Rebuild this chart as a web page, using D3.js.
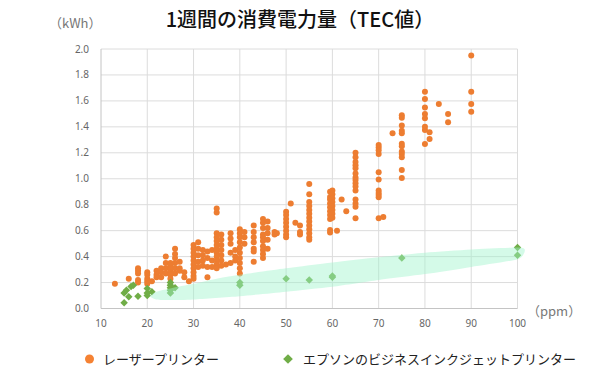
<html>
<script src="https://d3js.org/d3.v7.min.js"></script>
<body style="margin:0;background:#fff">
<svg></svg>
<script>
    const width = 600;
    const height = 373;

    // laser printers: [ppm, kWh]
    const laser = [
        [13,0.19],[16,0.23],
        [18,0.31],[18,0.29],[18,0.27],[18,0.22],[18,0.20],
        [20,0.28],[20,0.26],[20,0.23],[20,0.21],[20,0.19],[21,0.21],
        [22,0.29],[22,0.26],[22,0.24],
        [23,0.31],[23,0.28],[23,0.24],
        [24,0.40],[24,0.35],[24,0.31],[24,0.27],
        [25,0.35],[25,0.33],[25,0.30],[25,0.28],[25,0.26],[25,0.23],
        [26,0.46],[26,0.42],[26,0.39],[26,0.35],[26,0.31],[26,0.27],
        [27,0.36],[27,0.31],[27,0.29],[28,0.28],[28,0.24],[29,0.21],
        [30,0.49],[30,0.46],[30,0.43],[30,0.40],[30,0.37],[30,0.34],[30,0.31],[30,0.28],[30,0.25],[30,0.23],
        [31,0.51],[31,0.46],[31,0.41],[31,0.36],[31,0.32],
        [32,0.45],[32,0.41],[32,0.37],[32,0.33],
        [33,0.44],[33,0.39],[33,0.32],[33,0.24],
        [34,0.45],[34,0.37],[34,0.32],
        [35,0.77],[35,0.74],[35,0.58],[35,0.55],[35,0.52],[35,0.49],[35,0.46],[35,0.43],[35,0.40],[35,0.37],[35,0.34],[35,0.31],
        [36,0.57],[36,0.53],[36,0.49],[36,0.45],[36,0.41],[36,0.37],[36,0.33],
        [37,0.34],
        [38,0.58],[38,0.54],[38,0.50],[38,0.43],[38,0.35],
        [39,0.45],[39,0.40],[39,0.37],
        [40,0.61],[40,0.58],[40,0.55],[40,0.51],[40,0.47],[40,0.43],[40,0.39],[40,0.35],[40,0.31],[40,0.27],
        [41,0.59],[41,0.55],[41,0.50],
        [43,0.64],[43,0.59],[43,0.55],[43,0.51],[43,0.46],[43,0.44],[43,0.36],
        [45,0.69],[45,0.66],[45,0.62],[45,0.57],[45,0.55],[45,0.52],[45,0.48],[45,0.45],[45,0.42],[45,0.39],
        [46,0.67],[46,0.62],[46,0.58],[46,0.53],[46,0.46],
        [47.5,0.59],[47.5,0.57],[48,0.58],
        [50,0.745],[50,0.72],[50,0.69],[50,0.66],[50,0.63],[50,0.60],[50,0.57],[50,0.55],
        [51,0.81],[52,0.66],[53,0.64],[53,0.59],[53,0.57],
        [55,0.96],[55,0.88],[55,0.82],[55,0.79],[55,0.76],[55,0.73],[55,0.70],[55,0.67],[55,0.64],[55,0.61],[55,0.58],[55,0.55],[55,0.53],
        [59.5,0.90],[59.5,0.86],[59.5,0.84],[59.5,0.81],[59.5,0.78],[59.5,0.75],[59.5,0.72],[59.5,0.69],[59.5,0.605],[59.5,0.585],
        [60,0.91],[60,0.88],[60,0.85],[60,0.82],[60,0.79],[60,0.76],[60,0.73],[60,0.70],
        [61,0.60],[62,0.84],[63,0.75],
        [65,1.20],[65,1.165],[65,1.13],[65,1.105],[65,1.08],[65,1.04],[65,1.01],[65,0.99],[65,0.965],[65,0.94],[65,0.91],[65,0.84],[65,0.81],[65,0.785],[65,0.695],
        [70,1.26],[70,1.24],[70,1.22],[70,1.19],[70,1.05],[70,0.995],[70,0.91],[70,0.89],[70,0.875],[70,0.857],[70,0.695],
        [71,0.705],[73,1.35],
        [75,1.49],[75,1.47],[75,1.41],[75,1.37],[75,1.35],[75,1.27],[75,1.25],[75,1.21],[75,1.19],[75,1.165],[75,1.067],[75,1.006],
        [80,1.67],[80,1.615],[80,1.55],[80,1.50],[80,1.466],[80,1.40],[80,1.376],[80,1.268],
        [81,1.358],[81,1.306],[83,1.576],[85,1.50],[85,1.435],
        [90,1.95],[90,1.67],[90,1.576],[90,1.517]
    ];

    // epson business inkjet: [ppm, kWh]
    const epson = [
        [15,0.045],[15,0.12],[15.5,0.14],[16,0.09],[16.5,0.17],[17,0.18],[18,0.095],
        [20,0.155],[20,0.12],[20,0.10],[21,0.13],
        [25,0.20],[25,0.18],[25,0.16],[25,0.14],[25,0.12],[26,0.16],
        [40,0.20],[40,0.18],[50,0.23],[55,0.22],[60,0.25],[60,0.24],
        [75,0.39],[100,0.47],[100,0.41]
    ];

    // shaded band around the inkjet points
    const bandUpper = [[20.6,0.095],[22,0.13],[25,0.155],[30,0.19],[35,0.23],[40,0.26],[50,0.31],[60,0.355],[70,0.395],[80,0.43],[90,0.455],[100,0.47],[101.6,0.45]];
    const bandLower = [[100,0.38],[90,0.32],[80,0.265],[70,0.22],[60,0.168],[50,0.13],[40,0.095],[30,0.07],[25,0.065],[22,0.07]];

    const xTicks = [10,20,30,40,50,60,70,80,90,100];
    const yTicks = [0,0.2,0.4,0.6,0.8,1.0,1.2,1.4,1.6,1.8,2.0];

    const seriesNames = ['レーザープリンター', 'エプソンのビジネスインクジェットプリンター'];
    const orange = '#ed7d31', green = '#70ad47';

    const svg = d3.select('svg').attr('width', width).attr('height', height);

    const x = d3.scaleLinear().domain([10, 100]).range([101, 517.5]);
    const y = d3.scaleLinear().domain([0, 2]).range([308.5, 49]);

    // grid
    svg.append('g').selectAll('line').data(xTicks.slice(1)).enter().append('line')
        .attr('x1', d => x(d)).attr('x2', d => x(d))
        .attr('y1', y(2)).attr('y2', y(0))
        .style('stroke', '#dcdcdc').style('stroke-width', 1);
    svg.append('g').selectAll('line').data(yTicks.slice(1)).enter().append('line')
        .attr('x1', x(10)).attr('x2', x(100))
        .attr('y1', d => y(d)).attr('y2', d => y(d))
        .style('stroke', '#dcdcdc').style('stroke-width', 1);

    svg.append('line').attr('x1', x(10)).attr('x2', x(100)).attr('y1', y(0)).attr('y2', y(0))
        .style('stroke', '#c4c4c4');
    svg.append('line').attr('x1', x(10)).attr('x2', x(10)).attr('y1', y(0)).attr('y2', y(2))
        .style('stroke', '#c4c4c4');

    // tick labels
    svg.append('g').selectAll('text').data(xTicks).enter().append('text')
        .attr('x', d => x(d)).attr('y', 327)
        .attr('text-anchor', 'middle')
        .style('font', '10px "Noto Sans", sans-serif').style('fill', '#666')
        .text(d => d);
    svg.append('g').selectAll('text').data(yTicks).enter().append('text')
        .attr('x', 89).attr('y', d => y(d) + 3.5)
        .attr('text-anchor', 'end')
        .style('font', '10px "Noto Sans", sans-serif').style('fill', '#666')
        .text(d => d.toFixed(1));

    // points
    svg.append('g').selectAll('circle').data(laser).enter().append('circle')
        .attr('cx', d => x(d[0])).attr('cy', d => y(d[1]))
        .attr('r', 3).style('fill', orange);

    const diamond = d3.symbol().type(d3.symbolDiamond2).size(36);
    svg.append('g').selectAll('path').data(epson).enter().append('path')
        .attr('d', diamond)
        .attr('transform', d => `translate(${x(d[0])},${y(d[1])})`)
        .style('fill', green);

    // band (drawn over the points, translucent)
    const band = d3.line().x(d => x(d[0])).y(d => y(d[1])).curve(d3.curveCardinalClosed.tension(0.3));
    svg.append('path')
        .attr('d', band(bandUpper.concat(bandLower)))
        .style('fill', '#9ff5cc').style('opacity', 0.45);

    // titles
    svg.append('text').attr('x', 300).attr('y', 27).attr('text-anchor', 'middle')
        .style('font', '500 20px "Noto Sans CJK JP", sans-serif').style('fill', '#111')
        .text('1週間の消費電力量（TEC値）');
    svg.append('text').attr('x', 49).attr('y', 28)
        .style('font', '13px "Noto Sans CJK JP", sans-serif').style('fill', '#777')
        .text('（kWh）');
    svg.append('text').attr('x', 527).attr('y', 316)
        .style('font', '13px "Noto Sans CJK JP", sans-serif').style('fill', '#777')
        .text('（ppm）');

    // legend
    const legend = svg.append('g');
    legend.append('circle').attr('cx', 89.5).attr('cy', 359).attr('r', 4.5).style('fill', '#f58233');
    legend.append('path').attr('d', d3.symbol().type(d3.symbolDiamond2).size(60))
        .attr('transform', 'translate(288,359)').style('fill', green);
    legend.selectAll('text').data(seriesNames).enter().append('text')
        .attr('x', (d, i) => i ? 303 : 103).attr('y', 364)
        .style('font', '13px "Noto Sans CJK JP", sans-serif').style('fill', '#222')
        .text(d => d);
</script>
</body>
</html>
